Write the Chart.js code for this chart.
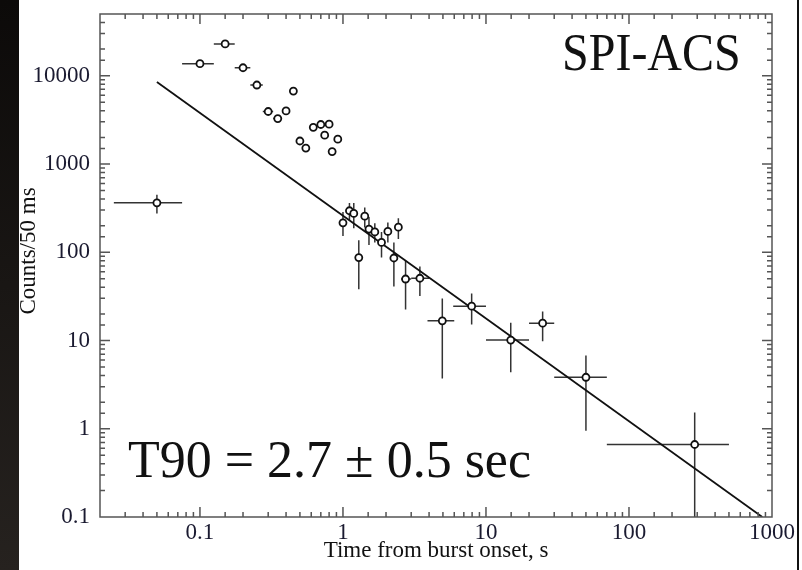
<!DOCTYPE html>
<html>
<head>
<meta charset="utf-8">
<title>SPI-ACS light curve</title>
<script src="https://cdn.jsdelivr.net/npm/chart.js@4"></script>
<style>
  html, body { margin: 0; padding: 0; background: #fff; }
  #wrap { width: 802px; height: 570px; }
</style>
</head>
<body>
<div id="wrap"><canvas id="grafico" width="802" height="570"></canvas></div>
<script>
// tempo desde o inicio do burst (s) e contagens por 50 ms
const tempos = [0.05, 0.1, 0.15, 0.2, 0.25, 0.3, 0.35, 0.4, 0.45, 0.5, 0.55, 0.62, 0.7, 0.745, 0.8, 0.84, 0.92,
    1.0, 1.11, 1.19, 1.29, 1.42, 1.52, 1.67, 1.86, 2.06, 2.27, 2.44, 2.74, 3.45, 4.95, 7.94, 14.9, 24.9, 50, 288];
const contagens = [363, 13700, 22900, 12300, 7840, 3930, 3270, 3990, 6700, 1820, 1515, 2600, 2800, 2120, 2820, 1380, 1910,
    215, 295, 275, 87, 256, 183, 170, 129, 172, 86, 192, 49.7, 50.7, 16.7, 24.5, 10.1, 15.7, 3.83, 0.663];

// barras de erro (limites inferior / superior)
const tempoMin = [0.025, 0.075, 0.125, 0.175, 0.225, 0.275, 0.325, 0.375, 0.425, 0.475, 0.525, 0.595, 0.675, 0.72, 0.775, 0.815, 0.895,
    0.95, 1.06, 1.14, 1.24, 1.37, 1.47, 1.62, 1.81, 2.01, 2.22, 2.39, 2.55, 3.0, 3.9, 5.9, 10, 20, 30, 70];
const tempoMax = [0.075, 0.125, 0.175, 0.225, 0.275, 0.325, 0.375, 0.425, 0.475, 0.525, 0.575, 0.645, 0.725, 0.77, 0.825, 0.865, 0.945,
    1.05, 1.16, 1.24, 1.34, 1.47, 1.57, 1.72, 1.91, 2.11, 2.32, 2.49, 3.0, 4.0, 6.0, 10, 20, 30, 70, 500];
const contMin = [275, 13500, 22600, 12100, 7700, 3850, 3200, 3920, 6600, 1780, 1480, 2550, 2750, 2080, 2770, 1350, 1870,
    153, 227, 187, 38, 191, 121, 129, 87, 129, 41, 141, 22.5, 32, 3.7, 15.2, 4.36, 9.8, 0.95, 0.05];
const contMax = [447, 13900, 23200, 12500, 7980, 4010, 3340, 4060, 6800, 1860, 1550, 2650, 2850, 2160, 2870, 1410, 1950,
    285, 360, 360, 137, 322, 250, 213, 169, 217, 129, 243, 80, 69, 29.8, 34, 15.9, 21.3, 6.75, 1.53];

// lei de potencia ajustada
const ajusteT = [0.05, 855];
const ajusteC = [8480, 0.1];

const xTicks = [0.1, 1, 10, 100, 1000];
const yTicks = [0.1, 1, 10, 100, 1000, 10000];

const corTexto = "#1a1a30";
const corEixo = "#555";

function ehDecada(v) {
    const l = Math.log10(v);
    return Math.abs(l - Math.round(l)) < 1e-6;
}

// fundo: faixa escura a esquerda e linha a direita
const fundoPlugin = {
    id: "fundo",
    beforeDraw(chart) {
        const ctx = chart.ctx;
        ctx.save();
        const g = ctx.createLinearGradient(0, 0, 0, 570);
        g.addColorStop(0, "#0c0a09");
        g.addColorStop(1, "#26221f");
        ctx.fillStyle = g;
        ctx.fillRect(0, 0, 19, 570);
        ctx.fillStyle = "#111";
        ctx.fillRect(797, 0, 2, 570);
        ctx.restore();
    }
};

// barras de erro
const errosPlugin = {
    id: "erros",
    beforeDatasetsDraw(chart) {
        const ctx = chart.ctx;
        const xs = chart.scales.x, ys = chart.scales.y;
        const a = chart.chartArea;
        ctx.save();
        ctx.beginPath();
        ctx.rect(a.left, a.top, a.right - a.left, a.bottom - a.top);
        ctx.clip();
        ctx.strokeStyle = "#333";
        ctx.lineWidth = 1.5;
        tempos.forEach(function (t, i) {
            const px = xs.getPixelForValue(t);
            const py = ys.getPixelForValue(contagens[i]);
            ctx.beginPath();
            ctx.moveTo(xs.getPixelForValue(tempoMin[i]), py);
            ctx.lineTo(xs.getPixelForValue(tempoMax[i]), py);
            ctx.moveTo(px, ys.getPixelForValue(contMin[i]));
            ctx.lineTo(px, ys.getPixelForValue(contMax[i]));
            ctx.stroke();
        });
        ctx.restore();
    }
};

// moldura, marcas para dentro e textos
const molduraPlugin = {
    id: "moldura",
    afterDraw(chart) {
        const ctx = chart.ctx;
        const xs = chart.scales.x, ys = chart.scales.y;
        const a = chart.chartArea;
        ctx.save();
        ctx.strokeStyle = corEixo;
        ctx.lineWidth = 1.5;
        ctx.strokeRect(a.left, a.top, a.right - a.left, a.bottom - a.top);
        ctx.beginPath();
        xs.ticks.forEach(function (tk) {
            const px = xs.getPixelForValue(tk.value);
            if (px <= a.left + 1 || px >= a.right - 1) return;
            const len = ehDecada(tk.value) ? 10 : 5;
            ctx.moveTo(px, a.bottom); ctx.lineTo(px, a.bottom - len);
            ctx.moveTo(px, a.top); ctx.lineTo(px, a.top + len);
        });
        ys.ticks.forEach(function (tk) {
            const py = ys.getPixelForValue(tk.value);
            if (py <= a.top + 1 || py >= a.bottom - 1) return;
            const len = ehDecada(tk.value) ? 10 : 5;
            ctx.moveTo(a.left, py); ctx.lineTo(a.left + len, py);
            ctx.moveTo(a.right, py); ctx.lineTo(a.right - len, py);
        });
        ctx.stroke();

        // titulo do eixo y
        ctx.save();
        ctx.translate(29, 251);
        ctx.rotate(-Math.PI / 2);
        ctx.fillStyle = "#111";
        ctx.textAlign = "center";
        ctx.textBaseline = "middle";
        ctx.font = "23px 'Liberation Serif'";
        ctx.fillText("Counts/50 ms", 0, 0);
        ctx.restore();

        ctx.fillStyle = "#111";
        ctx.textBaseline = "alphabetic";
        ctx.textAlign = "left";
        ctx.save();
        ctx.translate(562, 70);
        ctx.scale(1, 1.1);
        ctx.font = "48px 'Liberation Serif'";
        ctx.fillText("SPI-ACS", 0, 0);
        ctx.restore();
        ctx.font = "52px 'Liberation Serif'";
        ctx.fillText("T90 = 2.7 ± 0.5 sec", 128, 477);
        ctx.restore();
    }
};

const ctxGrafico = document.getElementById("grafico").getContext("2d");
const grafico = new Chart(ctxGrafico, {
    type: "scatter",
    data: {
        datasets: [{
            label: "SPI-ACS",
            data: tempos.map(function (t, i) { return { x: t, y: contagens[i] }; }),
            pointStyle: "circle",
            pointRadius: 3.5,
            pointBackgroundColor: "#fff",
            pointBorderColor: "#111",
            pointBorderWidth: 1.8,
            showLine: false,
            order: 1
        }, {
            label: "ajuste",
            data: ajusteT.map(function (t, i) { return { x: t, y: ajusteC[i] }; }),
            showLine: true,
            borderColor: "#111",
            borderWidth: 1.8,
            pointRadius: 0,
            fill: false,
            order: 2
        }]
    },
    options: {
        responsive: false,
        animation: false,
        layout: { padding: { left: 0, top: 14, right: 30, bottom: 0 } },
        plugins: { legend: { display: false }, tooltip: { enabled: false } },
        scales: {
            x: {
                type: "logarithmic",
                min: 0.02,
                max: 1000,
                grid: { display: false, drawTicks: false },
                border: { display: false },
                afterFit: function (s) { s.height = 53; },
                ticks: {
                    autoSkip: false,
                    maxRotation: 0,
                    padding: 2,
                    color: corTexto,
                    font: { family: "'Liberation Serif'", size: 23 },
                    callback: function (v) { return xTicks.indexOf(v) >= 0 ? String(v) : ""; }
                },
                title: {
                    display: true,
                    text: "Time from burst onset, s",
                    color: "#111",
                    font: { family: "'Liberation Serif'", size: 23 },
                    padding: { top: 0, bottom: 5 }
                }
            },
            y: {
                type: "logarithmic",
                min: 0.1,
                max: 50000,
                grid: { display: false, drawTicks: false },
                border: { display: false },
                afterFit: function (s) { s.width = 100; s.paddingTop = 0; s.paddingBottom = 0; },
                ticks: {
                    autoSkip: false,
                    padding: 10,
                    color: corTexto,
                    font: { family: "'Liberation Serif'", size: 23 },
                    callback: function (v) { return yTicks.indexOf(v) >= 0 ? String(v) : ""; }
                },
                title: { display: false }
            }
        }
    },
    plugins: [fundoPlugin, errosPlugin, molduraPlugin]
});
</script>
</body>
</html>
